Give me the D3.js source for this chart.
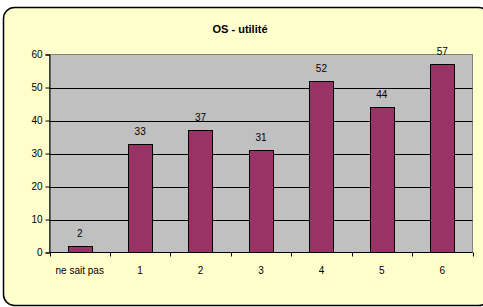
<!doctype html>
<html>
<head>
<script src="https://d3js.org/d3.v7.min.js"></script>
<style>
body { margin:0; background:#fff; }
text { font-family: Arial, "Liberation Sans", sans-serif; }
</style>
</head>
<body>
<script>
var categories = ["ne sait pas", "1", "2", "3", "4", "5", "6"];
var values = [2, 33, 37, 31, 52, 44, 57];
var yTicks = [0, 10, 20, 30, 40, 50, 60];
var title = "OS - utilité";

var width = 483, height = 307;
var svg = d3.select("body").append("svg")
  .attr("width", width).attr("height", height);

// outer chart box
svg.append("rect")
  .attr("x", 3.5).attr("y", 7.5)
  .attr("width", 486).attr("height", 298)
  .attr("rx", 11).attr("ry", 11)
  .attr("fill", "#ffffcc").attr("stroke", "#000").attr("stroke-width", 1.5);

svg.append("text")
  .attr("x", 240).attr("y", 33)
  .attr("text-anchor", "middle")
  .attr("font-size", 11).attr("font-weight", "bold")
  .text(title);

var pLeft = 49.5, pRight = 472.5, pTop = 54.5, pBottom = 252.5;

var x = d3.scaleBand().domain(categories).range([pLeft, pRight]).paddingInner(0.6).paddingOuter(0.3);
var xb = d3.scaleBand().domain(categories).range([pLeft, pRight]);
var y = d3.scaleLinear().domain([0, 60]).range([pBottom, pTop]);

svg.append("rect")
  .attr("x", pLeft).attr("y", pTop)
  .attr("width", pRight - pLeft).attr("height", pBottom - pTop)
  .attr("fill", "#c0c0c0").attr("stroke", "#808080");

// gridlines
svg.append("g").selectAll("line")
  .data(yTicks.filter(function (d) { return d > 0 && d < 60; }))
  .enter().append("line")
  .attr("x1", pLeft).attr("x2", pRight)
  .attr("y1", function (d) { return Math.round(y(d)) + 0.5; })
  .attr("y2", function (d) { return Math.round(y(d)) + 0.5; })
  .attr("stroke", "#000");

// bars
svg.append("g").selectAll("rect")
  .data(values)
  .enter().append("rect")
  .attr("x", function (d, i) { return Math.round(x(categories[i])) + 0.5; })
  .attr("y", function (d) { return Math.round(y(d)) + 0.5; })
  .attr("width", Math.round(x.bandwidth()))
  .attr("height", function (d) { return pBottom - Math.round(y(d)) - 0.5; })
  .attr("fill", "#993366").attr("stroke", "#000");

// value labels
svg.append("g").selectAll("text")
  .data(values)
  .enter().append("text")
  .attr("x", function (d, i) { return x(categories[i]) + x.bandwidth() / 2; })
  .attr("y", function (d) { return y(d) - 9; })
  .attr("text-anchor", "middle")
  .attr("font-size", 10)
  .text(function (d) { return d; });

// y axis
var yAxis = svg.append("g")
  .attr("transform", "translate(" + pLeft + ",0)")
  .call(d3.axisLeft(y).tickValues(yTicks).tickSize(4).tickPadding(3));
yAxis.selectAll("text").attr("font-size", 10).attr("fill", "#000")
  .style("font-family", "Arial, 'Liberation Sans', sans-serif");
yAxis.selectAll("line").attr("stroke", "#000");
yAxis.select(".domain").attr("stroke", "#000");

// x axis: ticks at category boundaries
var xAxis = svg.append("g").attr("transform", "translate(0," + pBottom + ")");
xAxis.append("line").attr("x1", pLeft).attr("x2", pRight).attr("stroke", "#000");
var bounds = categories.map(function (c) { return xb(c); }).concat([pRight]);
xAxis.selectAll("line.tk").data(bounds).enter().append("line")
  .attr("class", "tk")
  .attr("x1", function (d) { return Math.round(d) + 0.5; })
  .attr("x2", function (d) { return Math.round(d) + 0.5; })
  .attr("y1", 0).attr("y2", 4).attr("stroke", "#000");
xAxis.selectAll("text").data(categories).enter().append("text")
  .attr("x", function (c) { return xb(c) + xb.bandwidth() / 2; })
  .attr("y", 21)
  .attr("text-anchor", "middle")
  .attr("font-size", 10)
  .text(function (c) { return c; });
</script>
</body>
</html>
